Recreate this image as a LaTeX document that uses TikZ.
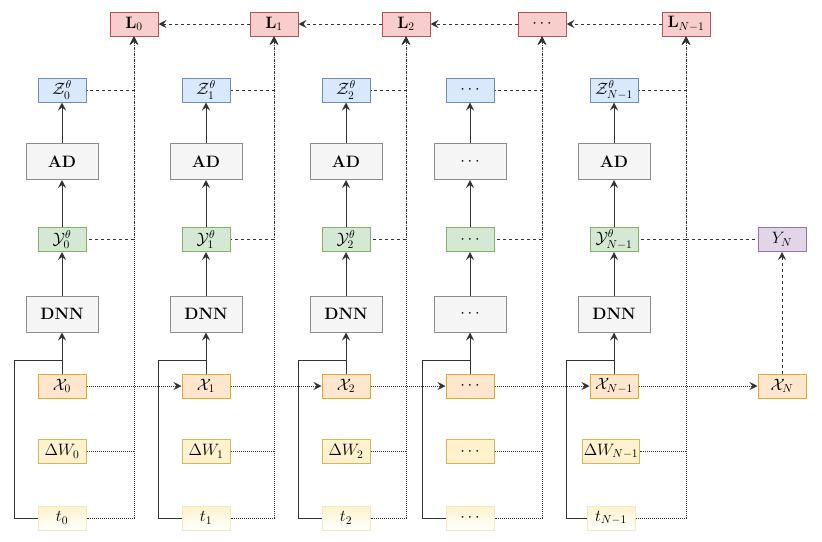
\RequirePackage{fix-cm}
\documentclass[tikz,border=0pt]{standalone}
\usetikzlibrary{arrows.meta}
\definecolor{lfill}{HTML}{F8CECC}\definecolor{ldraw}{HTML}{B85450}
\definecolor{zfill}{HTML}{DAE8FC}\definecolor{zdraw}{HTML}{6C8EBF}
\definecolor{yfill}{HTML}{D5E8D4}\definecolor{ydraw}{HTML}{82B366}
\definecolor{gfill}{HTML}{F5F5F5}\definecolor{gdraw}{HTML}{8C8C8C}
\definecolor{xfill}{HTML}{FFE6CC}\definecolor{xdraw}{HTML}{E2A928}
\definecolor{wfill}{HTML}{FFF2CC}\definecolor{wdraw}{HTML}{D6B656}
\definecolor{tdraw}{HTML}{F6E8BE}
\definecolor{pfill}{HTML}{E1D5E7}\definecolor{pdraw}{HTML}{9673A6}
\definecolor{ln}{HTML}{333333}
\tikzset{
  box/.style={minimum width=48pt,minimum height=24pt,inner xsep=3pt,inner ysep=0pt,line width=1pt},
  lbox/.style={box,fill=lfill,draw=ldraw},
  zbox/.style={box,fill=zfill,draw=zdraw},
  ybox/.style={box,fill=yfill,draw=ydraw},
  gbox/.style={box,minimum width=72pt,minimum height=36pt,fill=gfill,draw=gdraw},
  xbox/.style={box,fill=xfill,draw=xdraw},
  wbox/.style={box,fill=wfill,draw=wdraw},
  tbox/.style={box,top color=wfill,bottom color=white,draw=tdraw},
  pbox/.style={box,fill=pfill,draw=pdraw},
  arr/.style={-{Stealth[length=8pt,width=8pt,inset=3pt]}},
  rarr/.style={{Stealth[length=8pt,width=8pt,inset=3pt]}-},
  solidline/.style={draw=ln,line width=1pt},
  dashline/.style={draw=ln,line width=0.9pt,dash pattern=on 3pt off 3pt},
  dotline/.style={draw=ln,line width=0.8pt,dash pattern=on 1pt off 1pt},
}
\begin{document}
\begin{tikzpicture}[x=1pt,y=-1pt,font=\fontsize{16.5}{19}\selectfont]
\useasboundingbox (0,0) rectangle (822,541);
% L row
\node[lbox] (L0) at (134,24) {$\mathbf{L}_0$};
\node[lbox] (L1) at (274,24) {$\mathbf{L}_1$};
\node[lbox] (L2) at (406,24) {$\mathbf{L}_2$};
\node[lbox] (L3) at (542,24) {$\cdots$};
\node[lbox] (L4) at (686,24) {$\mathbf{L}_{N-1}$};
% Z row
\node[zbox] (Z0) at (62,90) {$\mathcal{Z}^{\theta}_{0}$};
\node[zbox] (Z1) at (206,90) {$\mathcal{Z}^{\theta}_{1}$};
\node[zbox] (Z2) at (346,90) {$\mathcal{Z}^{\theta}_{2}$};
\node[zbox] (Z3) at (470,90) {$\cdots$};
\node[zbox] (Z4) at (614,90) {$\mathcal{Z}^{\theta}_{N-1}$};
% AD row
\node[gbox] (A0) at (62,161.5) {$\mathbf{AD}$};
\node[gbox] (A1) at (206,161.5) {$\mathbf{AD}$};
\node[gbox] (A2) at (346,161.5) {$\mathbf{AD}$};
\node[gbox] (A3) at (470,161.5) {$\cdots$};
\node[gbox] (A4) at (614,161.5) {$\mathbf{AD}$};
% Y row
\node[ybox] (Y0) at (62,239.5) {$\mathcal{Y}^{\theta}_{0}$};
\node[ybox] (Y1) at (206,239.5) {$\mathcal{Y}^{\theta}_{1}$};
\node[ybox] (Y2) at (346,239.5) {$\mathcal{Y}^{\theta}_{2}$};
\node[ybox] (Y3) at (470,239.5) {$\cdots$};
\node[ybox] (Y4) at (614,239.5) {$\mathcal{Y}^{\theta}_{N-1}$};
\node[pbox] (YN) at (782,239.5) {$Y_N$};
% DNN row
\node[gbox] (D0) at (62,314) {$\mathbf{DNN}$};
\node[gbox] (D1) at (206,314) {$\mathbf{DNN}$};
\node[gbox] (D2) at (346,314) {$\mathbf{DNN}$};
\node[gbox] (D3) at (470,314) {$\cdots$};
\node[gbox] (D4) at (614,314) {$\mathbf{DNN}$};
% X row
\node[xbox] (X0) at (62,386) {$\mathcal{X}_{0}$};
\node[xbox] (X1) at (206,386) {$\mathcal{X}_{1}$};
\node[xbox] (X2) at (346,386) {$\mathcal{X}_{2}$};
\node[xbox] (X3) at (470,386) {$\cdots$};
\node[xbox] (X4) at (614,386) {$\mathcal{X}_{N-1}$};
\node[xbox] (X5) at (782,386) {$\mathcal{X}_{N}$};
% W row
\node[wbox] (W0) at (62,451.5) {$\Delta W_0$};
\node[wbox] (W1) at (206,451.5) {$\Delta W_1$};
\node[wbox] (W2) at (346,451.5) {$\Delta W_2$};
\node[wbox] (W3) at (470,451.5) {$\cdots$};
\node[wbox,inner xsep=1pt] (W4) at (611,451.5) {$\Delta W_{N-1}$};
% t row
\node[tbox] (T0) at (62,518) {$t_0$};
\node[tbox] (T1) at (206,518) {$t_1$};
\node[tbox] (T2) at (346,518) {$t_2$};
\node[tbox] (T3) at (470,518) {$\cdots$};
\node[tbox] (T4) at (611,518) {$t_{N-1}$};
% column connectors
\foreach \i/\cx in {0/62,1/206,2/346,3/470,4/614}{
  \draw[solidline,arr] (X\i.north) -- (D\i.south);
  \draw[solidline,arr] (D\i.north) -- (Y\i.south);
  \draw[solidline,arr] (Y\i.north) -- (A\i.south);
  \draw[solidline,arr] (A\i.north) -- (Z\i.south);
  \draw[solidline] (T\i.west) -| ({\cx-48},360) -- (\cx,360);
  \draw[dotline,rarr] (L\i.south) |- (T\i.east);
  \draw[dotline,rarr] (L\i.south) |- (W\i.east);
  \draw[dashline,rarr] (L\i.south) |- (Y\i.east);
  \draw[dashline,rarr] (L\i.south) |- (Z\i.east);
}
\foreach \i/\j in {0/1,1/2,2/3,3/4,4/5}{
  \draw[dotline,arr] (X\i.east) -- (X\j.west);
}
\foreach \i/\j in {1/0,2/1,3/2,4/3}{
  \draw[dashline,arr] (L\i.west) -- (L\j.east);
}
\draw[dashline,arr] (X5.north) -- (YN.south);
\draw[dashline,rarr] (L4.south) |- (YN.west);
\end{tikzpicture}
\end{document}
